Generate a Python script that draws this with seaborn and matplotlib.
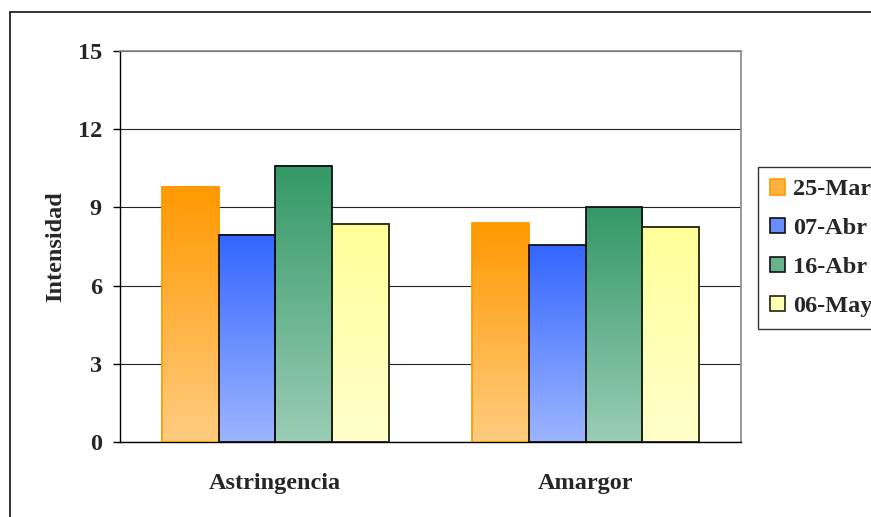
import numpy as np
import pandas as pd
import seaborn as sns
import matplotlib.pyplot as plt
from matplotlib.colors import LinearSegmentedColormap
from matplotlib.patches import Rectangle, Patch

atributos = ['Astringencia', 'Amargor']
fechas = ['25-Mar', '07-Abr', '16-Abr', '06-May']
astringencia = [9.8, 7.95, 10.6, 8.37]
amargor = [8.4, 7.55, 9.0, 8.25]

# gradient colours per date (top of bar, bottom of bar)
color_top = ['#FF9900', '#3366FF', '#339966', '#FFFF99']
color_bottom = ['#FFCC80', '#9DB5FF', '#9ACDB5', '#FFFFCC']
edge_colors = ['#FF9900', '#111111', '#111111', '#222211']

FS = 17.5

sns.set_style('white')
plt.rcParams['font.family'] = ['Liberation Serif', 'DejaVu Serif']
plt.rcParams['font.weight'] = 'bold'

df = pd.DataFrame({
    'atributo': np.repeat(atributos, len(fechas)),
    'fecha': fechas * len(atributos),
    'intensidad': astringencia + amargor,
})

fig = plt.figure(figsize=(8.71, 5.17), dpi=100)
ax = fig.add_axes([120 / 871, 75 / 517, 621 / 871, 391 / 517])

sns.barplot(data=df, x='atributo', y='intensidad', hue='fecha', hue_order=fechas,
            palette=color_top, width=0.73, gap=0, errorbar=None, legend=False,
            saturation=1, ax=ax)

# replace flat fills with vertical gradients like the original Excel chart
for i, cont in enumerate(ax.containers):
    cmap = LinearSegmentedColormap.from_list('g%d' % i, [color_bottom[i], color_top[i]])
    grad = np.linspace(0, 1, 256).reshape(-1, 1)
    for bar in cont:
        x, w, h = bar.get_x(), bar.get_width(), bar.get_height()
        ax.imshow(grad, cmap=cmap, extent=[x, x + w, 0, h], origin='lower',
                  aspect='auto', zorder=2, interpolation='bilinear')
        bar.set_facecolor('none')
        bar.set_edgecolor(edge_colors[i])
        bar.set_linewidth(1.3)
        bar.set_zorder(3)

ax.set_xlim(-0.5, 1.5)
ax.set_ylim(0, 15)
ax.set_yticks(range(0, 16, 3))
ax.grid(axis='y', color='#222222', linewidth=0.8)
ax.set_axisbelow(True)

for s in ['top', 'right']:
    ax.spines[s].set_color('#888888')
    ax.spines[s].set_linewidth(1.2)
for s in ['left', 'bottom']:
    ax.spines[s].set_color('black')
    ax.spines[s].set_linewidth(1.0)

ax.set_xticks([-0.5, 0.5, 1.5], minor=True)
ax.tick_params(axis='x', which='minor', length=6, width=1, color='#555555', direction='out')
ax.tick_params(axis='x', which='major', length=0, pad=22, labelsize=FS)
ax.tick_params(axis='y', length=5, width=1, color='black', direction='out', pad=8, labelsize=FS, left=True)
for lab in ax.get_xticklabels() + ax.get_yticklabels():
    lab.set_fontweight('bold')

ax.set_xlabel('')
ax.set_ylabel('Intensidad', fontsize=FS, fontweight='bold')
ax.yaxis.set_label_coords(-0.087, 0.5)

handles = [Patch(facecolor=LinearSegmentedColormap.from_list('h', [color_bottom[i], color_top[i]])(0.5),
                 edgecolor=edge_colors[i], linewidth=1.2) for i in range(len(fechas))]
leg = fig.legend(handles, fechas, loc='upper left', bbox_to_anchor=(758 / 871, 1 - 167 / 517),
                 borderaxespad=0, frameon=True, fancybox=False, prop={'size': FS, 'weight': 'bold'},
                 handlelength=0.6, handleheight=0.6, handletextpad=0.35, labelspacing=0.72,
                 borderpad=0.5)
leg.get_frame().set_edgecolor('black')
leg.get_frame().set_linewidth(1.0)

# outer chart border (cut off at right and bottom like the reference)
fig.add_artist(Rectangle((10 / 871, -0.2), 2, 1.2 - 12 / 517, transform=fig.transFigure,
                         fill=False, edgecolor='#222222', linewidth=1.3))

fig.savefig('out.png', dpi=100)
